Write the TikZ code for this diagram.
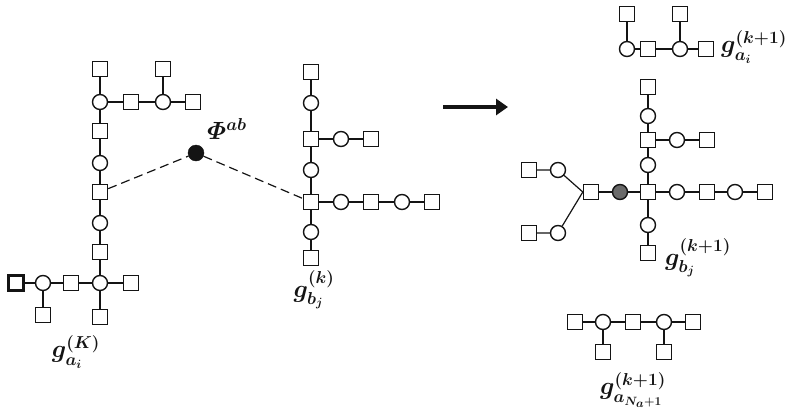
\documentclass[tikz,border=0pt]{standalone}
\usepackage{amsmath}
\usepackage{xcolor}
\usepackage{tikz}
\usetikzlibrary{arrows.meta}
\definecolor{treeInk}{HTML}{141414}
\definecolor{treeGray}{HTML}{6A6A6A}
\tikzset{
  unit box/.style={rectangle, draw=treeInk, line width=1.4pt, fill=white,
    minimum width=15pt, minimum height=15pt, inner sep=0pt},
  junction/.style={circle, draw=treeInk, line width=1.4pt, fill=white,
    minimum size=15pt, inner sep=0pt},
  shaded junction/.style={junction, fill=treeGray},
  bond point/.style={circle, draw=treeInk, fill=treeInk,
    minimum size=16pt, inner sep=0pt},
  bond/.style={draw=treeInk, line width=1.2pt},
  dash bond/.style={draw=treeInk, line width=1.2pt,
    dash pattern=on 9pt off 5pt},
  step arrow/.style={-{Triangle[length=12pt, width=16pt]},
    line width=4pt, draw=treeInk},
  tree label/.style={font=\fontsize{24}{28}\selectfont\boldmath,
    text=treeInk, inner sep=0pt}
}
\begin{document}
\begin{tikzpicture}[x=1pt, y=-1pt]
  \useasboundingbox (0,0) rectangle (785,413);
  % left tree g_{a_i}^{(K)}
  \node[unit box] (a1) at (100,69) {};
  \node[junction] (a2) at (100,102) {};
  \node[unit box] (a3) at (131,102) {};
  \node[junction] (a4) at (163,102) {};
  \node[unit box] (a5) at (163,69) {};
  \node[unit box] (a6) at (193,102) {};
  \node[unit box] (a7) at (100,131) {};
  \node[junction] (a8) at (100,163) {};
  \node[unit box] (a9) at (100,192) {};
  \node[junction] (a10) at (100,223) {};
  \node[unit box] (a11) at (100,252) {};
  \node[junction] (a12) at (100,283) {};
  \node[unit box] (a13) at (131,283) {};
  \node[unit box] (a14) at (100,317) {};
  \node[unit box] (a15) at (71,283) {};
  \node[junction] (a16) at (43,283) {};
  \node[unit box, line width=2.2pt] (a17) at (16,283) {};
  \node[unit box] (a18) at (43,315) {};
  \draw[bond] (a1) -- (a2) -- (a7) -- (a8) -- (a9) -- (a10) -- (a11)
    -- (a12) -- (a14);
  \draw[bond] (a2) -- (a3) -- (a4) -- (a6);
  \draw[bond] (a4) -- (a5);
  \draw[bond] (a12) -- (a13);
  \draw[bond] (a12) -- (a15) -- (a16) -- (a17);
  \draw[bond] (a16) -- (a18);
  \node[tree label] (la) at (76,352) {$g_{a_i}^{(K)}$};
  % bond between the trees
  \node[bond point] (phi) at (196,153) {};
  \node[tree label] (lphi) at (227,129) {$\varPhi^{ab}$};
  % middle tree g_{b_j}^{(k)}
  \node[unit box] (b1) at (311,72) {};
  \node[junction] (b2) at (311,103) {};
  \node[unit box] (b3) at (311,139) {};
  \node[junction] (b4) at (311,170) {};
  \node[unit box] (b5) at (311,202) {};
  \node[junction] (b6) at (311,232) {};
  \node[unit box] (b7) at (311,258) {};
  \node[junction] (b8) at (341,139) {};
  \node[unit box] (b9) at (371,139) {};
  \node[junction] (b10) at (341,202) {};
  \node[unit box] (b11) at (371,202) {};
  \node[junction] (b12) at (402,202) {};
  \node[unit box] (b13) at (432,202) {};
  \draw[bond] (b1) -- (b2) -- (b3) -- (b4) -- (b5) -- (b6) -- (b7);
  \draw[bond] (b3) -- (b8) -- (b9);
  \draw[bond] (b5) -- (b10) -- (b11) -- (b12) -- (b13);
  \node[tree label] (lb) at (314,290) {$g_{b_j}^{(k)}$};
  \draw[dash bond] (a9) -- (phi) -- (b5);
  % step
  \coordinate (stepFrom) at (443,107);
  \coordinate (stepTo) at (508,107);
  \draw[step arrow] (stepFrom) -- (stepTo);
  % top right tree g_{a_i}^{(k+1)}
  \node[junction] (c1) at (627,49) {};
  \node[unit box] (c2) at (627,14) {};
  \node[unit box] (c3) at (648,49) {};
  \node[junction] (c4) at (680,49) {};
  \node[unit box] (c5) at (680,14) {};
  \node[unit box] (c6) at (706,49) {};
  \draw[bond] (c2) -- (c1) -- (c3) -- (c4) -- (c6);
  \draw[bond] (c4) -- (c5);
  \node[tree label, anchor=west] (lc) at (721,47) {$g_{a_i}^{(k+1)}$};
  % right tree g_{b_j}^{(k+1)}
  \node[unit box] (d1) at (648,87) {};
  \node[junction] (d2) at (648,116) {};
  \node[unit box] (d3) at (648,140) {};
  \node[junction] (d4) at (677,140) {};
  \node[unit box] (d5) at (707,140) {};
  \node[junction] (d6) at (648,165) {};
  \node[unit box] (d7) at (648,192) {};
  \node[junction] (d8) at (677,192) {};
  \node[unit box] (d9) at (707,192) {};
  \node[junction] (d10) at (735,192) {};
  \node[unit box] (d11) at (765,192) {};
  \node[junction] (d12) at (648,225) {};
  \node[unit box] (d13) at (648,253) {};
  \node[shaded junction] (d14) at (620,192) {};
  \node[unit box] (d15) at (591,192) {};
  \node[junction] (d16) at (558,170) {};
  \node[unit box] (d17) at (529,170) {};
  \node[junction] (d18) at (558,233) {};
  \node[unit box] (d19) at (529,233) {};
  \draw[bond] (d1) -- (d2) -- (d3) -- (d6) -- (d7) -- (d12) -- (d13);
  \draw[bond] (d3) -- (d4) -- (d5);
  \draw[bond] (d15) -- (d14) -- (d7) -- (d8) -- (d9) -- (d10) -- (d11);
  \draw[bond] (d15.west) -- (d16) -- (d17);
  \draw[bond] (d15.west) -- (d18) -- (d19);
  \node[tree label] (ld) at (698,258) {$g_{b_j}^{(k+1)}$};
  % bottom tree g_{a_{N_a+1}}^{(k+1)}
  \node[unit box] (e1) at (575,322) {};
  \node[junction] (e2) at (603,322) {};
  \node[unit box] (e3) at (633,322) {};
  \node[junction] (e4) at (664,322) {};
  \node[unit box] (e5) at (693,322) {};
  \node[unit box] (e6) at (603,352) {};
  \node[unit box] (e7) at (664,352) {};
  \draw[bond] (e1) -- (e2) -- (e3) -- (e4) -- (e5);
  \draw[bond] (e2) -- (e6);
  \draw[bond] (e4) -- (e7);
  \node[tree label] (le) at (633,390) {$g_{a_{N_a+1}}^{(k+1)}$};
\end{tikzpicture}
\end{document}
